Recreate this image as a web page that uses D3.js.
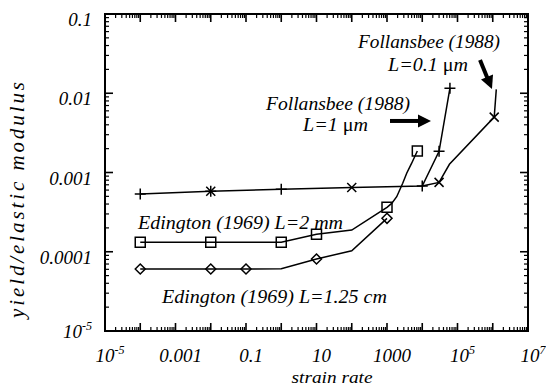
<!DOCTYPE html>
<html><head><meta charset="utf-8">
<script src="https://cdn.jsdelivr.net/npm/d3@7"></script>
<style>
html,body{margin:0;padding:0;background:#fff;}
svg text{font-family:"Liberation Serif","Times New Roman",serif;font-style:italic;fill:#000;}
</style></head>
<body><svg id="c" width="546" height="387"></svg>
<script>
// ---- data ----
const xTickValues = [1e-5, 1e-3, 1e-1, 10, 1000, 1e5, 1e7];
const xTickLabels = [["10","-5"], ["0.001",null], ["0.1",null], ["10",null], ["1000",null], ["10","5"], ["10","7"]];
const yTickValues = [1e-5, 1e-4, 1e-3, 1e-2, 1e-1];
const yTickLabels = [["10","-5"], ["0.0001",null], ["0.001",null], ["0.01",null], ["0.1",null]];

// Follansbee L=1 um ("+" branch, shares low-rate baseline)
const plusLineX = [1e-4, 1e-2, 1, 100, 1e4, 3e4, 6.1e4];
const plusLineY = [5.35e-4, 5.8e-4, 6.15e-4, 6.45e-4, 6.75e-4, 1.85e-3, 0.0116];
const plusMarkX = [1e-4, 1e-2, 1, 1e4, 3e4, 6.1e4];
const plusMarkY = [5.35e-4, 5.8e-4, 6.15e-4, 6.75e-4, 1.85e-3, 0.0116];
// Follansbee L=0.1 um ("x" branch)
const crossLineX = [1e4, 3e4, 5.9e4, 1.1e6, 1.26e6];
const crossLineY = [6.75e-4, 7.5e-4, 1.27e-3, 5.0e-3, 0.0112];
const crossMarkX = [1e-2, 100, 3e4, 1.1e6];
const crossMarkY = [5.8e-4, 6.45e-4, 7.5e-4, 5.0e-3];
// Edington L=2 mm (squares)
const sqLineX = [1e-4, 1e-2, 1, 10, 100, 1000, 1360, 1885, 2790, 3620, 5010, 7250];
const sqLineY = [1.315e-4, 1.315e-4, 1.315e-4, 1.66e-4, 1.88e-4, 3.64e-4, 4.08e-4, 4.95e-4, 7.3e-4, 9.8e-4, 1.31e-3, 1.87e-3];
const sqMarkX = [1e-4, 1e-2, 1, 10, 1000, 7250];
const sqMarkY = [1.315e-4, 1.315e-4, 1.315e-4, 1.66e-4, 3.64e-4, 1.87e-3];
// Edington L=1.25 cm (diamonds)
const diLineX = [1e-4, 1e-2, 0.1, 1, 10, 100, 1000];
const diLineY = [6.05e-5, 6.05e-5, 6.05e-5, 6.1e-5, 8.1e-5, 1.03e-4, 2.64e-4];
const diMarkX = [1e-4, 1e-2, 0.1, 10, 1000];
const diMarkY = [6.05e-5, 6.05e-5, 6.05e-5, 8.1e-5, 2.64e-4];
// annotation arrows (data coords: [x0,y0,x1,y1])
const arrows = [[1216, 4.47e-3, 17700, 4.47e-3], [4.35e5, 0.0263, 9.5e5, 0.01132]];

// ---- layout ----
const L = 105, R = 528, T = 14, B = 331;
const svg = d3.select("#c");
const x = d3.scaleLog().domain([1e-5, 1e7]).range([L, R]);
const y = d3.scaleLog().domain([1e-5, 0.1]).range([B, T]);

const majX = d3.range(-5, 8).map(e => Math.pow(10, e));
const minX = [];
for (let e = -5; e < 7; e++) for (let k = 2; k <= 9; k++) minX.push(k * Math.pow(10, e));
const majY = d3.range(-5, 0).map(e => Math.pow(10, e));
const minY = [];
for (let e = -5; e < -1; e++) for (let k = 2; k <= 9; k++) minY.push(k * Math.pow(10, e));

const g = svg.append("g").attr("stroke", "#000").attr("fill", "none");
function tickSet(vals, len, w) {
  vals.forEach(v => {
    const px = x(v);
    g.append("line").attr("x1", px).attr("x2", px).attr("y1", B).attr("y2", B - len).attr("stroke-width", w);
    g.append("line").attr("x1", px).attr("x2", px).attr("y1", T).attr("y2", T + len).attr("stroke-width", w);
  });
}
function tickSetY(vals, len, w) {
  vals.forEach(v => {
    const py = y(v);
    g.append("line").attr("y1", py).attr("y2", py).attr("x1", L).attr("x2", L + len).attr("stroke-width", w);
    g.append("line").attr("y1", py).attr("y2", py).attr("x1", R).attr("x2", R - len).attr("stroke-width", w);
  });
}
tickSet(majX, 8, 1.6); tickSet(minX, 4, 1.2);
tickSetY(majY.concat([0.1]), 8, 1.6); tickSetY(minY, 4, 1.2);
g.append("rect").attr("x", L).attr("y", T).attr("width", R - L).attr("height", B - T).attr("stroke-width", 2);

// tick labels
function lab(sel, pair) {
  sel.append("tspan").text(pair[0]);
  if (pair[1]) sel.append("tspan").attr("dy", -8).attr("font-size", 12).text(pair[1]);
}
xTickValues.forEach((v, i) => {
  const t = svg.append("text").attr("x", x(v) + 5).attr("y", 362).attr("font-size", 19).attr("text-anchor", "middle");
  lab(t, xTickLabels[i]);
});
yTickValues.forEach((v, i) => {
  const t = svg.append("text").attr("x", 92).attr("y", y(v) + (i === 0 ? 7 : 12)).attr("font-size", 19).attr("text-anchor", "end");
  lab(t, yTickLabels[i]);
});

// axis titles
svg.append("text").attr("x", 332).attr("y", 383).attr("font-size", 17).attr("text-anchor", "middle")
  .attr("textLength", 81).attr("lengthAdjust", "spacingAndGlyphs").text("strain rate");
svg.append("text").attr("transform", "translate(24,200) rotate(-90)").attr("font-size", 21).attr("text-anchor", "middle")
  .attr("textLength", 236).attr("lengthAdjust", "spacing").text("yield/elastic modulus");

// lines
const line = d3.line().x(d => x(d[0])).y(d => y(d[1]));
const zip = (a, b) => a.map((v, i) => [v, b[i]]);
const lines = svg.append("g").attr("fill", "none").attr("stroke", "#000").attr("stroke-width", 1.5);
[[plusLineX, plusLineY], [crossLineX, crossLineY], [sqLineX, sqLineY], [diLineX, diLineY]].forEach(s => {
  lines.append("path").attr("d", line(zip(s[0], s[1])));
});

// markers
const mk = svg.append("g").attr("fill", "none").attr("stroke", "#000").attr("stroke-width", 1.5);
const shapes = {
  plus: s => `M${-s},0H${s}M0,${-s}V${s}`,
  cross: s => `M${-s},${-s}L${s},${s}M${-s},${s}L${s},${-s}`,
  square: s => `M${-s},${-s}H${s}V${s}H${-s}Z`,
  diamond: s => `M0,${-s}L${s},0L0,${s}L${-s},0Z`
};
function marks(xs, ys, shape, size) {
  mk.selectAll(null).data(zip(xs, ys)).enter().append("path")
    .attr("transform", d => `translate(${x(d[0])},${y(d[1])})`)
    .attr("d", shapes[shape](size));
}
marks(plusMarkX, plusMarkY, "plus", 5.5);
marks(crossMarkX, crossMarkY, "cross", 4.5);
marks(sqMarkX, sqMarkY, "square", 5);
marks(diMarkX, diMarkY, "diamond", 5);

// arrows
arrows.forEach(a => {
  const x0 = x(a[0]), y0 = y(a[1]), x1 = x(a[2]), y1 = y(a[3]);
  const dx = x1 - x0, dy = y1 - y0, len = Math.hypot(dx, dy);
  const ux = dx / len, uy = dy / len, nx = -uy, ny = ux;
  const hl = 13, hw = 6.5;
  const bx = x1 - ux * hl, by = y1 - uy * hl;
  svg.append("line").attr("x1", x0).attr("y1", y0).attr("x2", bx + ux).attr("y2", by + uy)
    .attr("stroke", "#000").attr("stroke-width", 4);
  svg.append("path").attr("d", `M${x1},${y1}L${bx + nx * hw},${by + ny * hw}L${bx - nx * hw},${by - ny * hw}Z`).attr("fill", "#000");
});

// annotations
function ann(cx, by, parts, len, anchor) {
  const t = svg.append("text").attr("x", cx).attr("y", by).attr("font-size", 19).attr("text-anchor", anchor || "middle");
  if (len) t.attr("textLength", len).attr("lengthAdjust", "spacingAndGlyphs");
  parts.forEach(p => {
    const s = t.append("tspan").text(p[0]);
    if (p[1]) s.attr("font-style", "normal");
  });
}
ann(429, 48, [["Follansbee (1988)"]], 142);
ann(428, 71, [["L=0.1 "], ["\u03bc", 1], ["m"]], 80);
ann(338, 110, [["Follansbee (1988)"]], 144);
ann(335.5, 131, [["L=1 "], ["\u03bc", 1], ["m"]], 65);
ann(138, 229, [["Edington (1969) L=2 mm"]], 205, "start");
ann(162, 303, [["Edington (1969) L=1.25 cm"]], 225, "start");
</script></body></html>
